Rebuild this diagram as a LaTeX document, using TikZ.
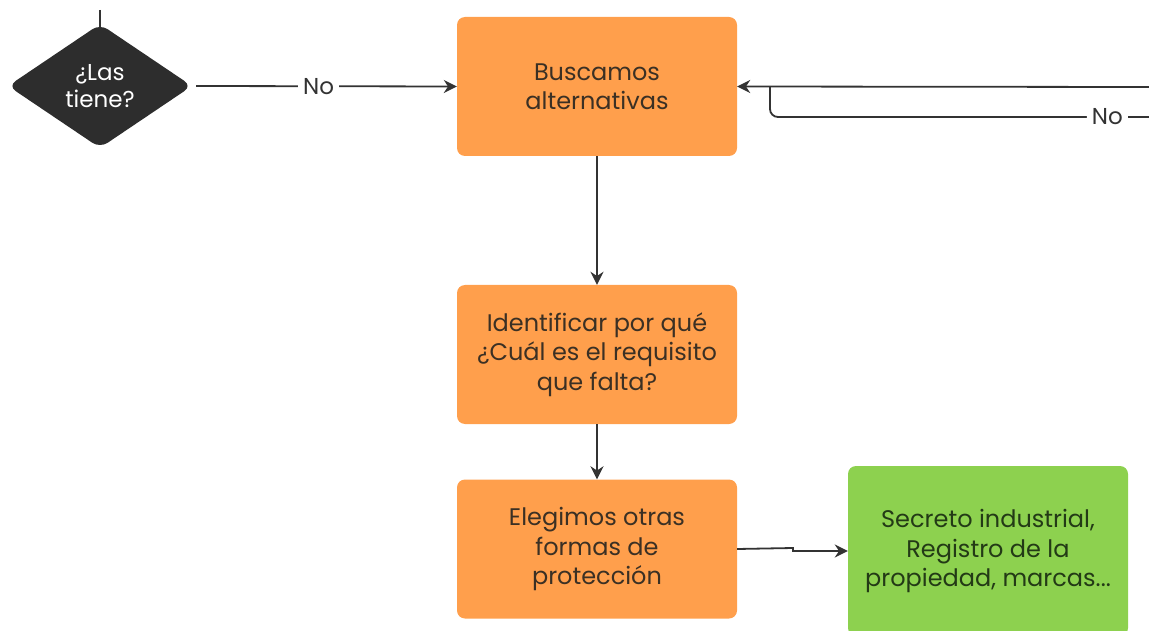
\documentclass[tikz,border=0pt]{standalone}
\usepackage{fontspec}
\setmainfont{Poppins}
\usetikzlibrary{shapes.geometric,arrows.meta,backgrounds}
\definecolor{boxorange}{HTML}{FF9F4C}
\definecolor{boxgreen}{HTML}{8DD14F}
\definecolor{darkdia}{HTML}{2D2D2D}
\definecolor{linec}{HTML}{333333}
\definecolor{otext}{HTML}{3B3024}
\definecolor{gtext}{HTML}{233A16}
\begin{document}
\begin{tikzpicture}[x=1pt,y=-1pt,
  txt/.style={font=\fontsize{24}{29.5}\selectfont, align=center},
  obox/.style={txt, fill=boxorange, text=otext, rounded corners=8pt, minimum width=280pt, minimum height=139pt, inner sep=0pt},
  gbox/.style={txt, fill=boxgreen, text=gtext, rounded corners=8pt, minimum width=280pt, minimum height=170pt, inner sep=0pt},
  dia/.style={font=\fontsize{23}{27}\selectfont, align=center, shape=diamond, fill=darkdia, text=white, rounded corners=9pt, minimum width=184pt, minimum height=124pt, aspect=1.5, inner sep=0pt},
  conn/.style={draw=linec, line width=1.8pt, -{Stealth[length=13pt,width=13pt]}},
  plain/.style={draw=linec, line width=1.8pt},
  lbl/.style={font=\fontsize{23}{26}\selectfont, text=linec, fill=white, inner sep=5pt}
]
\useasboundingbox (0,0) rectangle (1149,631);
\clip (0,0) rectangle (1149,631);

\node[dia] (q) at (100,86) {¿Las\\tiene?};
\node[obox] (b1) at (597,86.5) {Buscamos\\alternativas};
\node[obox] (b2) at (597,354.5) {Identificar por qué\\¿Cuál es el requisito\\que falta?};
\node[obox] (b3) at (597,549) {Elegimos otras\\formas de\\protección};
\node[gbox] (g) at (988,551) {Secreto industrial,\\Registro de la\\propiedad, marcas...};

\coordinate (qtop) at (100,10);
\coordinate (rin1) at (1149,87);
\coordinate (rin2) at (1149,117);
\coordinate (jog) at (793,548);

\begin{scope}[on background layer]
\draw[plain] (qtop) -- (q.center);
\end{scope}
\draw[conn] (q.east) ++(4,0) -- node[lbl, pos=0.47] {No} (b1.west);
\draw[conn] (rin1) -- (b1.east);
\draw[plain, rounded corners=8pt] (rin2) -- node[lbl, pos=0.11] {No} (770,117) -- (770,87);
\draw[conn] (b1.south) -- (b2.north);
\draw[conn] (b2.south) -- (b3.north);
\draw[conn] (b3.east) -- (jog) |- (g.west);
\end{tikzpicture}
\end{document}
